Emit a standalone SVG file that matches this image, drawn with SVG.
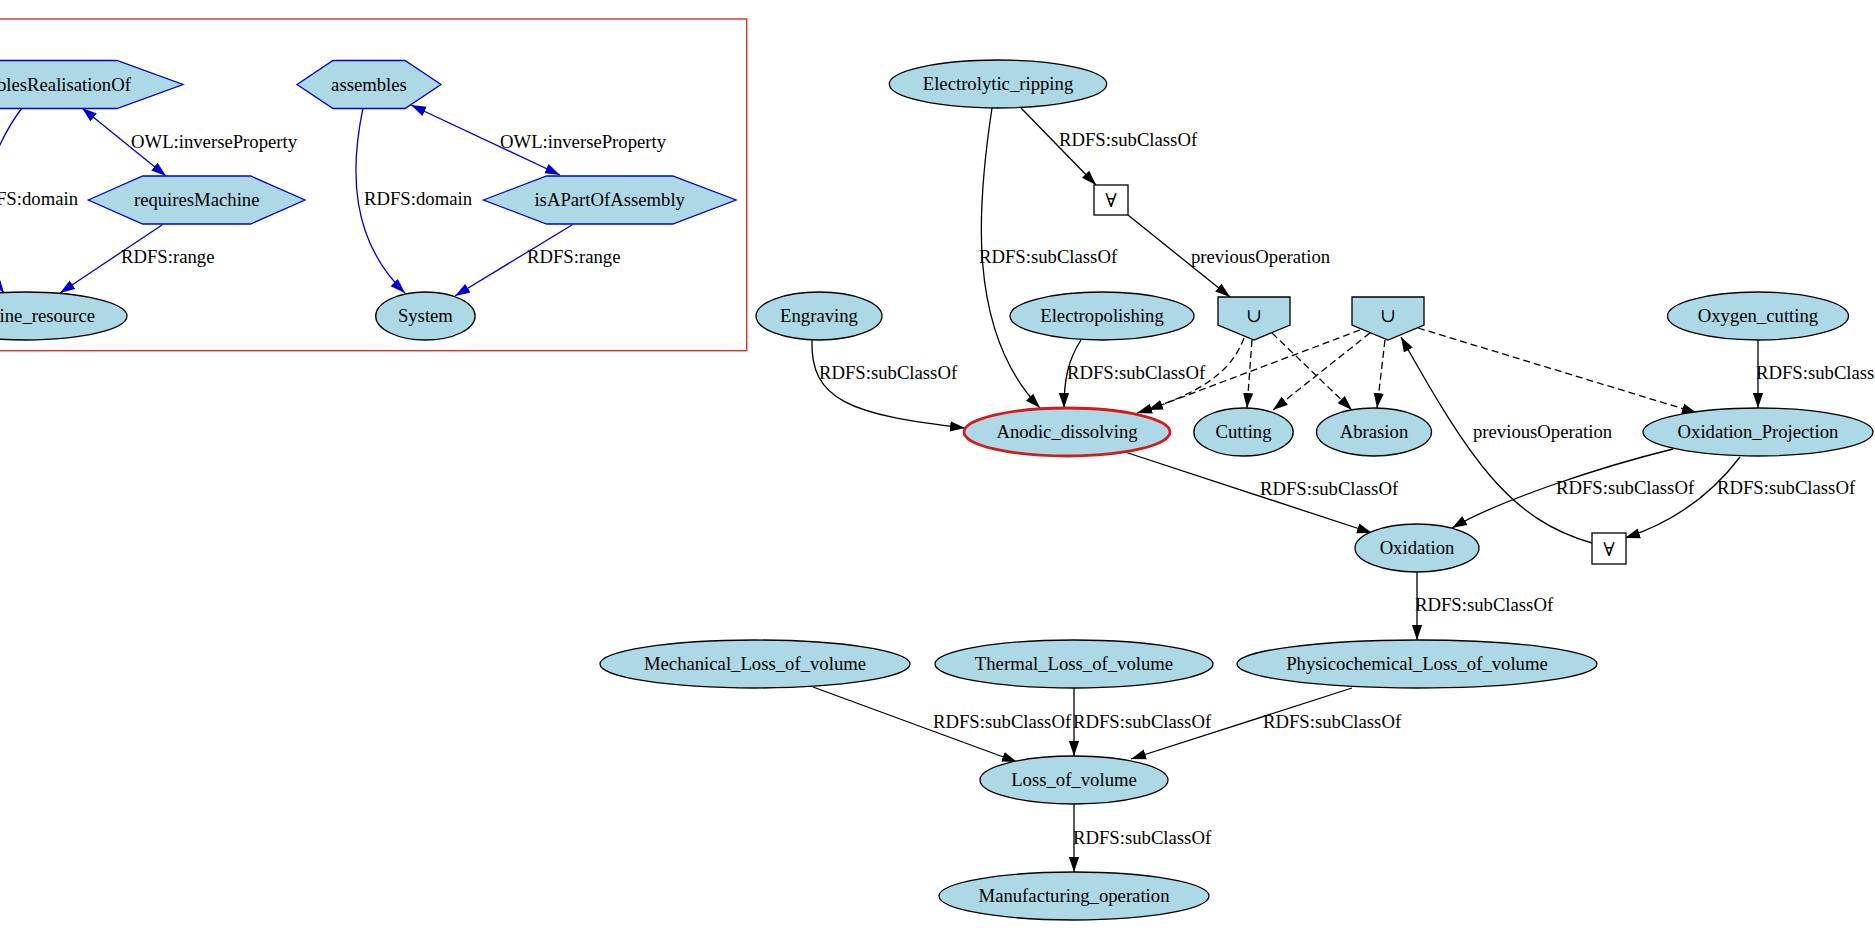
<svg xmlns="http://www.w3.org/2000/svg" width="1875" height="939" viewBox="0 0 1875 939">
<style>
text{font-family:"Liberation Serif","Times New Roman","DejaVu Serif",serif;font-size:18.7px;fill:#000}
.t{text-anchor:middle}
.el{fill:#add8e6;stroke:#000;stroke-width:1.3}
.hx{fill:#add8e6;stroke:#0000cd;stroke-width:1.3}
.bx{fill:#fff;stroke:#000;stroke-width:1.3}
.e{fill:none;stroke:#000;stroke-width:1.3}
.d{stroke-dasharray:7,4}
.be{fill:none;stroke:#0000cd;stroke-width:1.3}
.sym{font-family:"DejaVu Serif","DejaVu Sans",serif;font-size:19px}
</style>
<defs>
<marker id="ah" viewBox="0 0 15 11" refX="15" refY="5.5" markerWidth="15" markerHeight="11" markerUnits="userSpaceOnUse" orient="auto"><path d="M0,0.4 L15,5.5 L0,10.6 z" fill="#000"/></marker>
<marker id="ahb" viewBox="0 0 15 11" refX="15" refY="5.5" markerWidth="15" markerHeight="11" markerUnits="userSpaceOnUse" orient="auto-start-reverse"><path d="M0,0.4 L15,5.5 L0,10.6 z" fill="#0000cd"/></marker>
</defs>
<rect width="1875" height="939" fill="#fff"/>

<g id="cluster">
<rect x="-5" y="19" width="751.7" height="331.7" fill="none" stroke="#d8302a" stroke-width="1.4"/>
</g>

<g id="edges">
<path class="be" d="M82,108 L166,176" marker-start="url(#ahb)" marker-end="url(#ahb)"/>
<path class="be" d="M162,225 L60,293" marker-end="url(#ahb)"/>
<path class="be" d="M22,108 C-10,150 -40,230 4,293" marker-end="url(#ahb)"/>
<path class="be" d="M363,108 C350,170 350,240 405,293" marker-end="url(#ahb)"/>
<path class="be" d="M572,225 L455,296" marker-end="url(#ahb)"/>
<path class="be" d="M411,105 L560,175" marker-start="url(#ahb)" marker-end="url(#ahb)"/>
<path class="e" d="M1021,108 L1096,185" marker-end="url(#ah)"/>
<path class="e" d="M992,108 C978,200 965,330 1040,408" marker-end="url(#ah)"/>
<path class="e" d="M1128,215 L1230,297" marker-end="url(#ah)"/>
<path class="e" d="M812,340 C810,400 850,415 965,428" marker-end="url(#ah)"/>
<path class="e" d="M1081,340 C1068,360 1064,380 1064,408" marker-end="url(#ah)"/>
<path class="e d" d="M1244,338 C1232,370 1205,392 1137,413" marker-end="url(#ah)"/>
<path class="e d" d="M1360,330 L1148,410" marker-end="url(#ah)"/>
<path class="e d" d="M1252,340 L1247,408" marker-end="url(#ah)"/>
<path class="e d" d="M1272,333 L1352,410" marker-end="url(#ah)"/>
<path class="e d" d="M1370,333 L1273,410" marker-end="url(#ah)"/>
<path class="e d" d="M1385,340 L1377,408" marker-end="url(#ah)"/>
<path class="e d" d="M1418,328 L1697,413" marker-end="url(#ah)"/>
<path class="e" d="M1758,340 L1758,408" marker-end="url(#ah)"/>
<path class="e" d="M1125,452 L1372,533" marker-end="url(#ah)"/>
<path class="e" d="M1673,449 C1600,467 1500,500 1452,528" marker-end="url(#ah)"/>
<path class="e" d="M1740,457 C1715,490 1680,520 1625,538" marker-end="url(#ah)"/>
<path class="e" d="M1592,543 C1510,520 1470,460 1401,337" marker-end="url(#ah)"/>
<path class="e" d="M1417,572 L1417,640" marker-end="url(#ah)"/>
<path class="e" d="M813,687 L1017,762" marker-end="url(#ah)"/>
<path class="e" d="M1074,688 L1074,756" marker-end="url(#ah)"/>
<path class="e" d="M1352,688 L1131,759" marker-end="url(#ah)"/>
<path class="e" d="M1074,804 L1074,872" marker-end="url(#ah)"/>
</g>

<g id="edge-labels">
<text x="131" y="148">OWL:inverseProperty</text>
<text x="78" y="205" text-anchor="end">RDFS:domain</text>
<text x="121" y="263">RDFS:range</text>
<text x="364" y="205">RDFS:domain</text>
<text x="500" y="148">OWL:inverseProperty</text>
<text x="527" y="263">RDFS:range</text>
<text x="1059" y="146">RDFS:subClassOf</text>
<text x="979" y="263">RDFS:subClassOf</text>
<text x="1191" y="263">previousOperation</text>
<text x="819" y="379">RDFS:subClassOf</text>
<text x="1067" y="379">RDFS:subClassOf</text>
<text x="1756" y="379">RDFS:subClassOf</text>
<text x="1260" y="495">RDFS:subClassOf</text>
<text x="1556" y="494">RDFS:subClassOf</text>
<text x="1717" y="494">RDFS:subClassOf</text>
<text x="1473" y="438">previousOperation</text>
<text x="1415" y="611">RDFS:subClassOf</text>
<text x="933" y="728">RDFS:subClassOf</text>
<text x="1073" y="728">RDFS:subClassOf</text>
<text x="1263" y="728">RDFS:subClassOf</text>
<text x="1073" y="844">RDFS:subClassOf</text>
</g>

<g id="n-enablesRealisationOf"><polygon class="hx" points="-81,84.5 -15,60.5 117,60.5 183,84.5 117,108.5 -15,108.5"/><text class="t" x="51" y="90.5">enablesRealisationOf</text></g>
<g id="n-requiresMachine"><polygon class="hx" points="88.3,200 142.7,176 250.7,176 305,200 250.7,224 142.7,224"/><text class="t" x="196.7" y="206">requiresMachine</text></g>
<g id="n-Machine_resource"><ellipse class="el" cx="26" cy="316" rx="101" ry="24"/><text class="t" x="26" y="322">Machine_resource</text></g>
<g id="n-assembles"><polygon class="hx" points="297,84.5 333,60.5 405,60.5 441,84.5 405,108.5 333,108.5"/><text class="t" x="369" y="90.5">assembles</text></g>
<g id="n-isAPartOfAssembly"><polygon class="hx" points="483.4,200 546.7,176 672.7,176 736,200 672.7,224 546.7,224"/><text class="t" x="609.7" y="206">isAPartOfAssembly</text></g>
<g id="n-System"><ellipse class="el" cx="425.4" cy="316" rx="49.7" ry="24"/><text class="t" x="425.4" y="322">System</text></g>

<g id="n-Electrolytic_ripping"><ellipse class="el" cx="998" cy="84" rx="108.7" ry="24"/><text class="t" x="998" y="90">Electrolytic_ripping</text></g>
<g id="n-forall1"><rect class="bx" x="1094" y="185" width="34" height="30"/><text class="t sym" x="1111" y="207">∀</text></g>
<g id="n-union1"><polygon class="el" points="1218,297 1290,297 1290,325 1254,340 1218,325"/><text class="t sym" x="1254" y="322">∪</text></g>
<g id="n-union2"><polygon class="el" points="1352,297 1424,297 1424,325 1388,340 1352,325"/><text class="t sym" x="1388" y="322">∪</text></g>
<g id="n-Engraving"><ellipse class="el" cx="819" cy="316" rx="63" ry="24"/><text class="t" x="819" y="322">Engraving</text></g>
<g id="n-Electropolishing"><ellipse class="el" cx="1102" cy="316" rx="92" ry="24"/><text class="t" x="1102" y="322">Electropolishing</text></g>
<g id="n-Oxygen_cutting"><ellipse class="el" cx="1758" cy="316" rx="90.5" ry="24"/><text class="t" x="1758" y="322">Oxygen_cutting</text></g>
<g id="n-Anodic_dissolving"><ellipse cx="1067" cy="432" rx="103" ry="24" fill="#add8e6" stroke="#d01c1c" stroke-width="2.8"/><text class="t" x="1067" y="438">Anodic_dissolving</text></g>
<g id="n-Cutting"><ellipse class="el" cx="1243.5" cy="432" rx="49.7" ry="24"/><text class="t" x="1243.5" y="438">Cutting</text></g>
<g id="n-Abrasion"><ellipse class="el" cx="1374" cy="432" rx="57.5" ry="24"/><text class="t" x="1374" y="438">Abrasion</text></g>
<g id="n-Oxidation_Projection"><ellipse class="el" cx="1758" cy="432" rx="115" ry="24"/><text class="t" x="1758" y="438">Oxidation_Projection</text></g>
<g id="n-Oxidation"><ellipse class="el" cx="1417" cy="548" rx="62" ry="24"/><text class="t" x="1417" y="554">Oxidation</text></g>
<g id="n-forall2"><rect class="bx" x="1592" y="533" width="34" height="31"/><text class="t sym" x="1609" y="556">∀</text></g>
<g id="n-Mechanical_Loss_of_volume"><ellipse class="el" cx="755" cy="664" rx="155" ry="24"/><text class="t" x="755" y="670">Mechanical_Loss_of_volume</text></g>
<g id="n-Thermal_Loss_of_volume"><ellipse class="el" cx="1074" cy="664" rx="139" ry="24"/><text class="t" x="1074" y="670">Thermal_Loss_of_volume</text></g>
<g id="n-Physicochemical_Loss_of_volume"><ellipse class="el" cx="1417" cy="664" rx="180" ry="24"/><text class="t" x="1417" y="670">Physicochemical_Loss_of_volume</text></g>
<g id="n-Loss_of_volume"><ellipse class="el" cx="1074" cy="780" rx="94" ry="24"/><text class="t" x="1074" y="786">Loss_of_volume</text></g>
<g id="n-Manufacturing_operation"><ellipse class="el" cx="1074" cy="896" rx="135" ry="24"/><text class="t" x="1074" y="902">Manufacturing_operation</text></g>
</svg>
